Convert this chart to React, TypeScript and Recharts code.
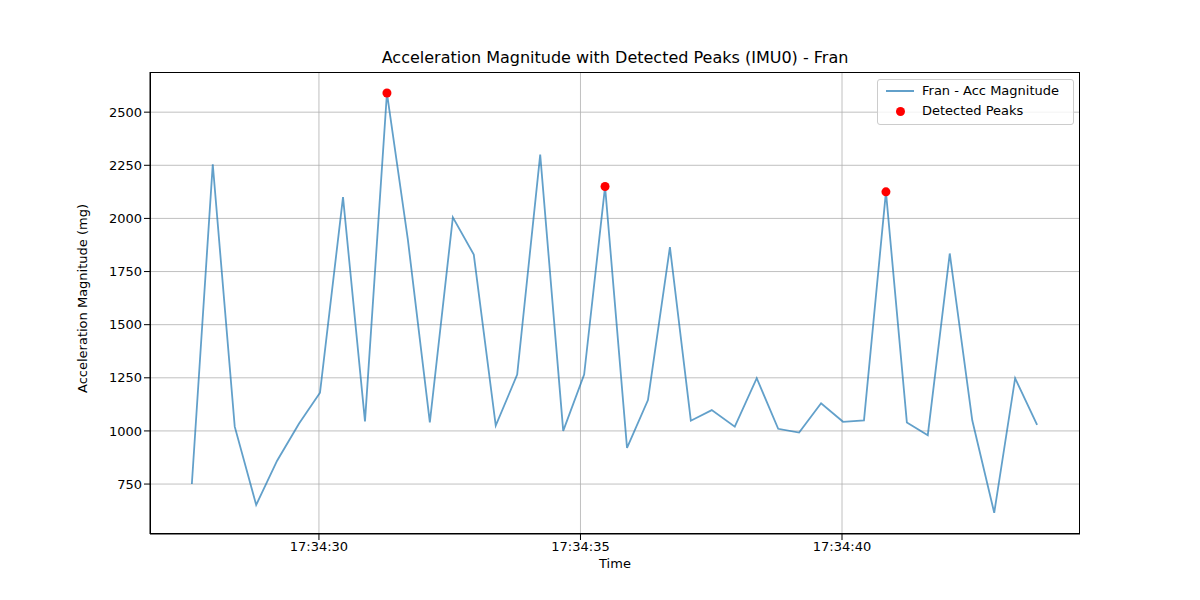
import {
  ComposedChart,
  Line,
  Scatter,
  XAxis,
  YAxis,
  CartesianGrid,
} from "recharts";

// seconds after 17:34:00
const times = [
  27.57, 27.97, 28.39, 28.8, 29.2, 29.62, 30.02, 30.46, 30.88, 31.3,
  31.7, 32.12, 32.56, 32.96, 33.38, 33.79, 34.23, 34.67, 35.07, 35.47,
  35.89, 36.29, 36.71, 37.11, 37.51, 37.95, 38.37, 38.78, 39.18, 39.6,
  40.02, 40.42, 40.84, 41.24, 41.64, 42.06, 42.49, 42.91, 43.31, 43.73,
];
const magnitudes = [
  750, 2255, 1020, 652, 860, 1035, 1180, 2100, 1045, 2590,
  1900, 1040, 2005, 1830, 1025, 1265, 2300, 1000, 1265, 2150,
  920, 1145, 1865, 1048, 1098, 1020, 1248, 1010, 992, 1130,
  1043, 1050, 2125, 1040, 980, 1835, 1050, 615, 1248, 1028,
];
const peakIndices = [9, 19, 32];
const xTicks = [30, 35, 40];
const yTicks = [750, 1000, 1250, 1500, 1750, 2000, 2250, 2500];

const series = times.map((t, i) => ({ t, mag: magnitudes[i] }));
const peaks = peakIndices.map((i) => ({ t: times[i], mag: magnitudes[i] }));

const fmtTime = (s: number) => `17:34:${String(Math.round(s)).padStart(2, "0")}`;
const font = "DejaVu Sans, sans-serif";
const tick = { fontSize: 13, fill: "#000", fontFamily: font };

function LegendBox() {
  return (
    <div
      style={{
        position: "absolute",
        left: 877,
        top: 79,
        width: 197,
        height: 46,
        border: "1px solid #ccc",
        borderRadius: 3,
        background: "rgba(255,255,255,0.8)",
        fontFamily: font,
        fontSize: 13,
        boxSizing: "border-box",
        padding: "1px 0 0 8px",
        lineHeight: "20px",
      }}
    >
      <div style={{ display: "flex", alignItems: "center" }}>
        <span style={{ width: 28, height: 2, background: "#1f77b4", opacity: 0.7, marginRight: 8 }} />
        Fran - Acc Magnitude
      </div>
      <div style={{ display: "flex", alignItems: "center" }}>
        <span style={{ width: 28, display: "flex", justifyContent: "center", marginRight: 8 }}>
          <span style={{ width: 9, height: 9, borderRadius: "50%", background: "red" }} />
        </span>
        Detected Peaks
      </div>
    </div>
  );
}

export default function App() {
  return (
    <div style={{ position: "relative", margin: -8, width: 1200, height: 600, background: "#fff", fontFamily: font }}>
      <div style={{ position: "absolute", top: 48, width: 1230, textAlign: "center", fontSize: 16 }}>
        Acceleration Magnitude with Detected Peaks (IMU0) - Fran
      </div>
      <ComposedChart width={1200} height={600} margin={{ top: 72, right: 120, left: 80, bottom: 36 }}>
        <CartesianGrid
          xAxisId="main"
          yAxisId="main"
          stroke="#b0b0b0"
          strokeWidth={0.8}
          verticalValues={xTicks}
          horizontalValues={yTicks}
        />
        <XAxis
          xAxisId="main"
          dataKey="t"
          type="number"
          domain={[26.77, 44.55]}
          ticks={xTicks}
          tickFormatter={fmtTime}
          tick={tick}
          stroke="#000"
          height={30}
          label={{ value: "Time", position: "insideBottom", offset: -4, fontSize: 13, fill: "#000", fontFamily: font }}
        />
        <YAxis
          yAxisId="main"
          type="number"
          domain={[515, 2689]}
          ticks={yTicks}
          tick={tick}
          stroke="#000"
          width={70}
          label={{ value: "Acceleration Magnitude (mg)", angle: -90, position: "insideLeft", offset: 2, dy: 90, fontSize: 13, fill: "#000", fontFamily: font }}
        />
        <Line
          xAxisId="main"
          yAxisId="main"
          data={series}
          dataKey="mag"
          type="linear"
          stroke="#1f77b4"
          strokeOpacity={0.7}
          strokeWidth={1.8}
          dot={false}
          isAnimationActive={false}
        />
        <Scatter
          xAxisId="main"
          yAxisId="main"
          data={peaks}
          dataKey="mag"
          fill="red"
          shape={(p: any) => <circle cx={p.cx} cy={p.cy} r={4.5} fill="red" />}
          isAnimationActive={false}
        />
      </ComposedChart>
      <div
        style={{
          position: "absolute",
          left: 150,
          top: 72,
          width: 930,
          height: 462,
          border: "1px solid #000",
          boxSizing: "border-box",
          pointerEvents: "none",
        }}
      />
      <LegendBox />
    </div>
  );
}
